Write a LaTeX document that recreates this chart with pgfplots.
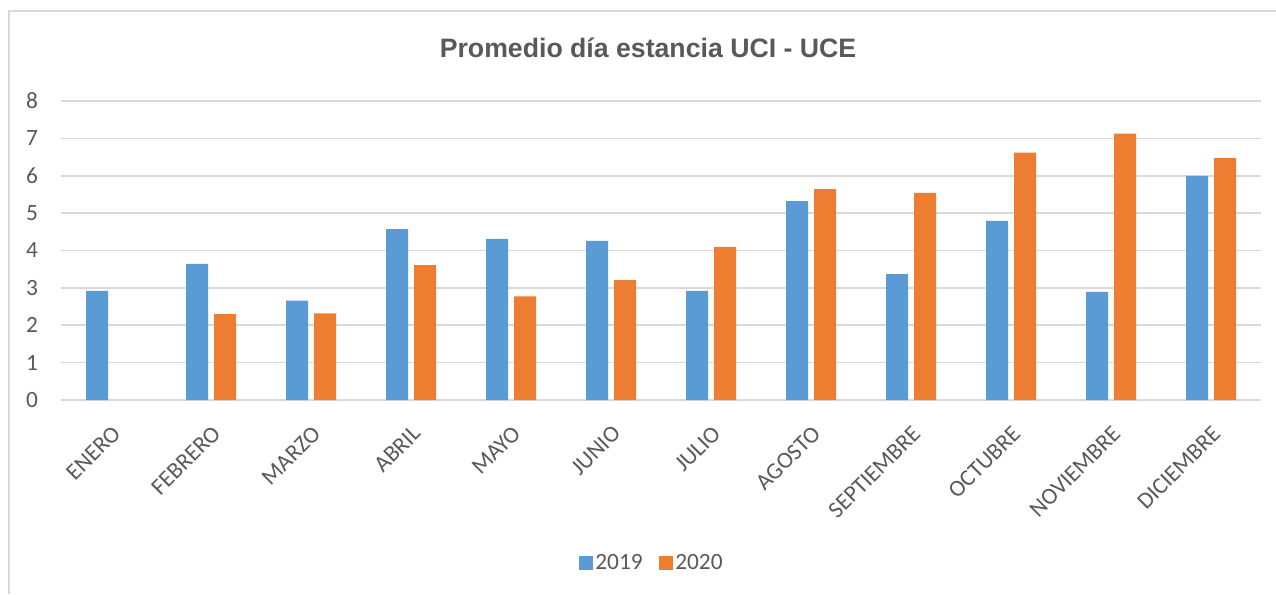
\documentclass[border=0pt]{standalone}
\usepackage{pgfplots}
\pgfplotsset{compat=1.18}
\usepackage{fontspec}
\setmainfont{Carlito}
\newfontfamily\titlefont{Liberation Sans}
\definecolor{cblue}{HTML}{5B9BD5}
\definecolor{corange}{HTML}{ED7D31}
\definecolor{cgrid}{HTML}{D9D9D9}
\definecolor{ctext}{HTML}{595959}
\begin{document}
\begin{tikzpicture}
\useasboundingbox (0,0) rectangle (957pt,445.5pt);
\fill[white] (0,0) rectangle (957pt,445.5pt);
\draw[cgrid, line width=0.9pt] (6.75pt,0) -- (6.75pt,437.25pt) -- (957pt,437.25pt);
\node[anchor=base, text=ctext, font=\titlefont\bfseries\fontsize{20pt}{24pt}\selectfont] at (486pt,402pt) {Promedio día estancia UCI - UCE};
\begin{axis}[
  at={(45.75pt,145.5pt)}, anchor=south west,
  scale only axis, width=900pt, height=224.25pt,
  xmin=-0.5, xmax=11.5, ymin=0, ymax=8,
  axis line style={draw=none},
  ybar, bar width=16.5pt,
  ymajorgrids, grid style={cgrid, line width=1.2pt},
  ytick={0,1,...,8},
  xtick={0,...,11},
  xticklabels={ENERO,FEBRERO,MARZO,ABRIL,MAYO,JUNIO,JULIO,AGOSTO,SEPTIEMBRE,OCTUBRE,NOVIEMBRE,DICIEMBRE},
  major tick length=0pt,
  /pgf/number format/assume math mode=true,
  tick label style={text=ctext, font=\fontsize{17.5pt}{20pt}\selectfont, inner sep=0pt},
  yticklabel style={anchor=east, xshift=-17pt},
  xticklabel style={xshift=0pt, yshift=-18pt, rotate=45, anchor=north east},
  legend style={at={(0.4925,-0.545)}, anchor=center, draw=none, fill=none,
    legend columns=2, font=\fontsize{17.5pt}{20pt}\selectfont, text=ctext,
    nodes={inner xsep=2pt},
    /tikz/every even column/.append style={column sep=10pt}},
  legend image code/.code={\fill[#1] (0pt,-5.25pt) rectangle (10.5pt,5.25pt);},
]
\addplot[fill=cblue, draw=none, bar shift=-10.5pt] coordinates {
(0,2.92) (1,3.64) (2,2.66) (3,4.57) (4,4.31) (5,4.26) (6,2.92) (7,5.32) (8,3.37) (9,4.79) (10,2.89) (11,6.00)};
\addplot[fill=corange, draw=none, bar shift=10.5pt] coordinates {
(1,2.30) (2,2.32) (3,3.61) (4,2.77) (5,3.21) (6,4.10) (7,5.64) (8,5.54) (9,6.62) (10,7.13) (11,6.47)};
\legend{2019,2020}
\end{axis}
\end{tikzpicture}
\end{document}
